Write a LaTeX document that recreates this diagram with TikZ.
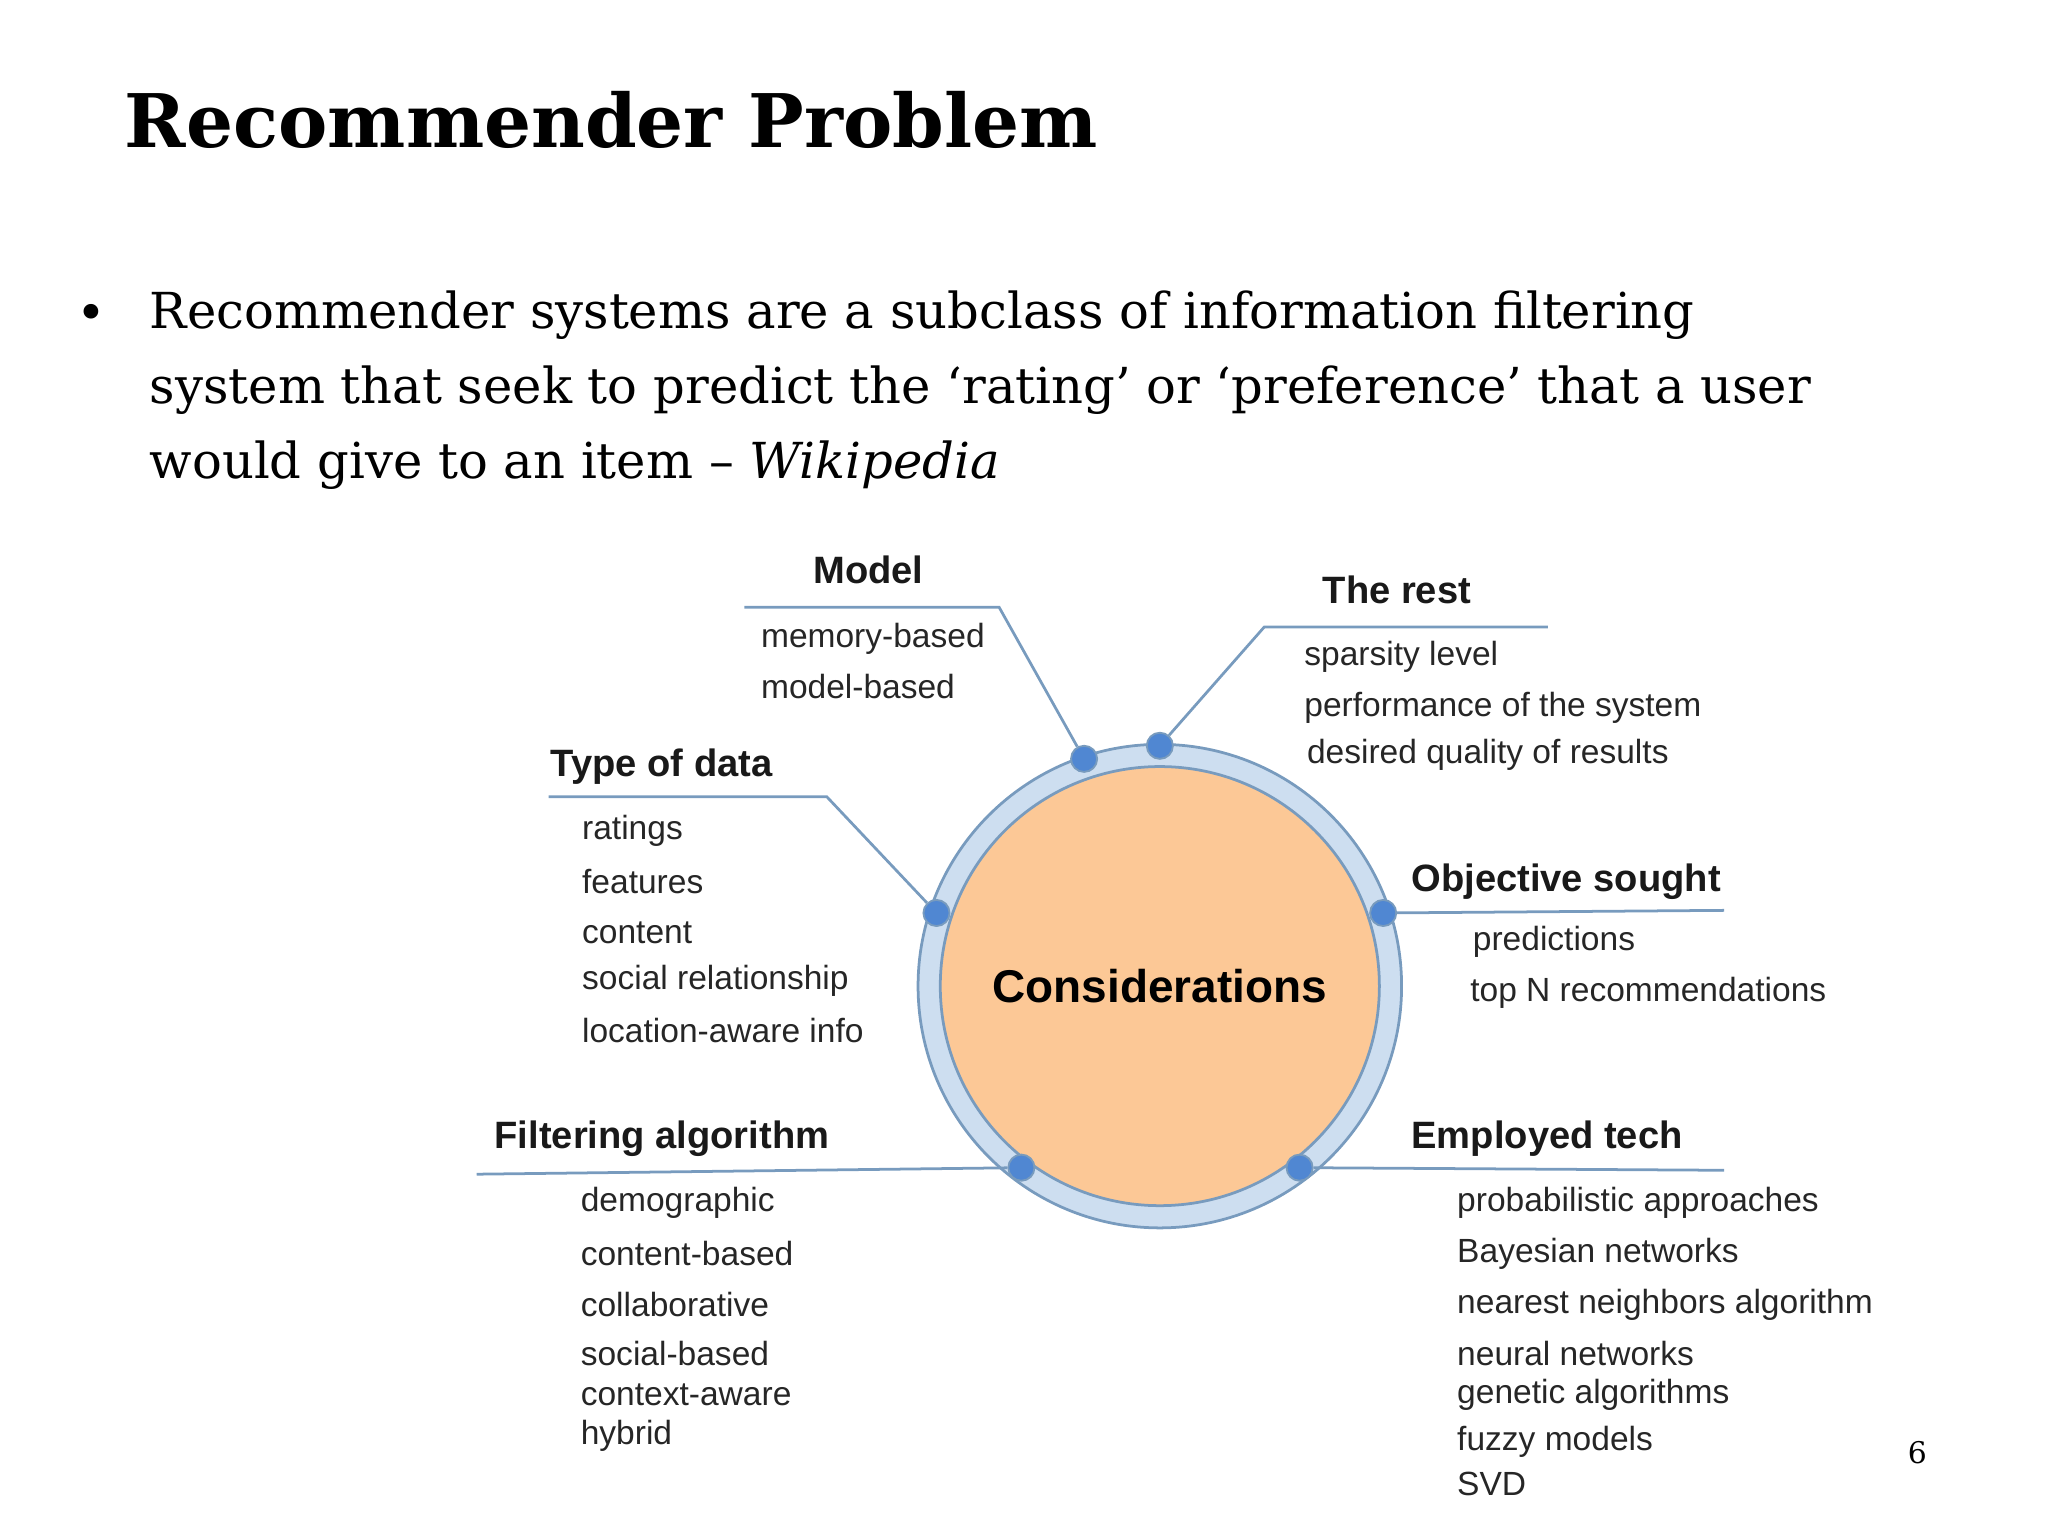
\documentclass[tikz,border=0pt]{standalone}
\usepackage{fontspec}
\setmainfont{DejaVu Serif}
\newfontfamily\dfont{Liberation Sans}
\definecolor{lnc}{RGB}{120,155,190}
\definecolor{ringc}{RGB}{205,222,240}
\definecolor{dotc}{RGB}{80,135,210}
\definecolor{orc}{RGB}{252,200,150}
\begin{document}
\begin{tikzpicture}[x=0.01cm,y=-0.01cm,
  hd/.style={anchor=west,inner sep=0pt,font=\dfont\bfseries\fontsize{8.3}{9}\selectfont,text=black!90},
  it/.style={anchor=west,inner sep=0pt,font=\dfont\fontsize{7.3}{8}\selectfont,text=black!85},
  ln/.style={draw=lnc,line width=0.6pt},
  dot/.style={circle,fill=dotc,draw=lnc,minimum size=0.2cm,inner sep=0pt}]
\useasboundingbox (0,0) rectangle (1568,1176);
\node[anchor=west,inner sep=0pt,font=\bfseries\fontsize{16.1}{18}\selectfont] (title) at (95,92) {Recommender Problem};
\node[anchor=north west,inner sep=0pt,font=\fontsize{10.8}{16.3}\selectfont,align=left] (txt) at (114,222)
 {Recommender systems are a subclass of information filtering\\ system that seek to predict the `rating' or `preference' that a user\\ would give to an item -- \textit{Wikipedia}};
\node[font=\fontsize{11}{14}\selectfont] (bul) at (70,243) {•};
\node[circle,minimum size=3.7cm,draw=lnc,fill=ringc,line width=0.6pt] (ring) at (888,755) {};
\node[circle,minimum size=3.36cm,draw=lnc,fill=orc,line width=0.6pt,font=\dfont\bfseries\fontsize{10}{12}\selectfont] (c) at (888,755) {Considerations};
\node[dot] (d1) at (830,581) {}; \node[dot] (d2) at (888,571) {};
\node[dot] (d3) at (717,699) {}; \node[dot] (d4) at (1059,699) {};
\node[dot] (d5) at (782,894) {}; \node[dot] (d6) at (995,894) {};
\coordinate (m1) at (570,465); \coordinate (m2) at (765,465);
\coordinate (r1) at (968,480); \coordinate (r2) at (1185,480);
\coordinate (t1) at (420,610); \coordinate (t2) at (633,610);
\coordinate (o2) at (1320,697);
\coordinate (f1) at (365,899);
\coordinate (e2) at (1320,896);
\draw[ln] (m1)--(m2)--(d1);
\draw[ln] (d2)--(r1)--(r2);
\draw[ln] (t1)--(t2)--(d3);
\draw[ln] (d4)--(o2);
\draw[ln] (f1)--(d5);
\draw[ln] (d6)--(e2);
\node[hd] (hm) at (622,436) {Model};
\node[it] (m_a) at (582,489) {memory-based};
\node[it] (m_b) at (582,526) {model-based};
\node[hd] (hr) at (1012,452) {The rest};
\node[it] (r_a) at (998,503) {sparsity level};
\node[it] (r_b) at (998,542) {performance of the system};
\node[it] (r_c) at (1000,578) {desired quality of results};
\node[hd] (ht) at (421,587) {Type of data};
\foreach \t/\y in {ratings/636,features/675,content/714,social relationship/751,location-aware info/789}
  \node[it] at (445,\y) {\t};
\node[hd] (ho) at (1080,675) {Objective sought};
\node[it] at (1127,721) {predictions};
\node[it] at (1125,760) {top N recommendations};
\node[hd] (hf) at (378,872) {Filtering algorithm};
\foreach \t/\y in {demographic/921,content-based/960,collaborative/999,social-based/1036,context-aware/1068,hybrid/1099}
  \node[it] at (444,\y) {\t};
\node[hd] (he) at (1080,872) {Employed tech};
\foreach \t/\y in {probabilistic approaches/921,Bayesian networks/960,nearest neighbors algorithm/999,neural networks/1036,genetic algorithms/1068,fuzzy models/1104,SVD/1136}
  \node[it] at (1115,\y) {\t};
\node[font=\fontsize{6.5}{8}\selectfont] (pg) at (1468,1112) {6};
\end{tikzpicture}
\end{document}
